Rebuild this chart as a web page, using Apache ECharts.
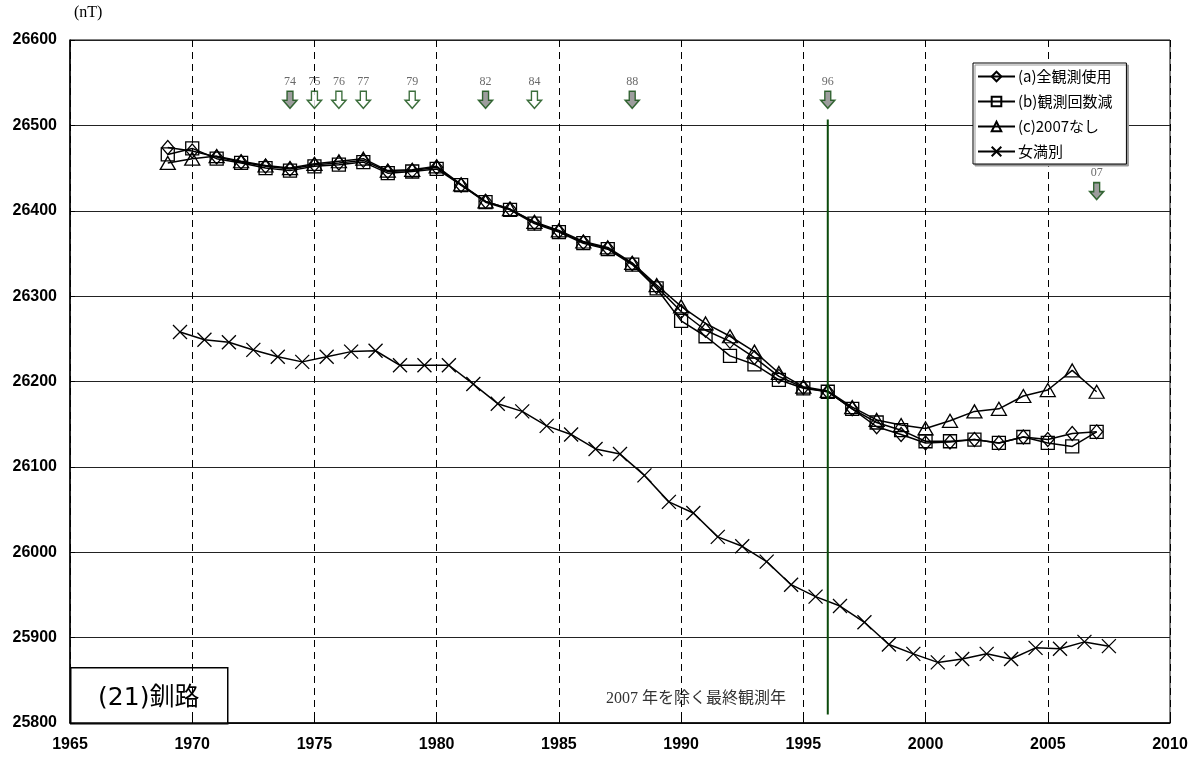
<html>
<head>
    <meta charset="utf-8">
    <title>(21)釧路</title>
    <script src="https://cdn.jsdelivr.net/npm/echarts@6/dist/echarts.min.js"></script>
    <style>
        html, body { margin: 0; padding: 0; background: #fff; }
    </style>
</head>
<body>
<div id="chartmain" style="width: 1204px; height: 760px;"></div>
<script type="text/javascript">
    // 観測年 (釧路)
    var years = [1969, 1970, 1971, 1972, 1973, 1974, 1975, 1976, 1977, 1978,
        1979, 1980, 1981, 1982, 1983, 1984, 1985, 1986, 1987, 1988,
        1989, 1990, 1991, 1992, 1993, 1994, 1995, 1996, 1997, 1998,
        1999, 2000, 2001, 2002, 2003, 2004, 2005, 2006, 2007];

    // (a)全観測使用
    var seriesA = [26474, 26470, 26463, 26457, 26452, 26449, 26454, 26456, 26459, 26446,
        26447, 26451, 26430, 26411, 26402, 26386, 26376, 26363, 26356, 26338,
        26311, 26282, 26260, 26247, 26228, 26206, 26193, 26188, 26168, 26147,
        26138, 26128, 26129, 26132, 26128, 26135, 26132, 26139, 26141];

    // (b)観測回数減
    var seriesB = [26466, 26473, 26461, 26456, 26450, 26447, 26452, 26454, 26457, 26444,
        26446, 26449, 26430, 26410, 26401, 26385, 26375, 26362, 26355, 26337,
        26309, 26271, 26253, 26230, 26220, 26202, 26192, 26188, 26168, 26152,
        26143, 26130, 26130, 26132, 26128, 26135, 26128, 26124, 26141];

    // (c)2007なし
    var seriesC = [26456, 26461, 26464, 26458, 26453, 26450, 26455, 26458, 26461, 26447,
        26448, 26452, 26431, 26411, 26402, 26387, 26377, 26364, 26357, 26339,
        26313, 26288, 26268, 26253, 26235, 26210, 26194, 26189, 26170, 26155,
        26149, 26145, 26154, 26165, 26168, 26183, 26190, 26213, 26188];

    // 女満別 (年央値)
    var memanbetsuYears = [1969.5, 1970.5, 1971.5, 1972.5, 1973.5, 1974.5, 1975.5, 1976.5, 1977.5, 1978.5,
        1979.5, 1980.5, 1981.5, 1982.5, 1983.5, 1984.5, 1985.5, 1986.5, 1987.5, 1988.5,
        1989.5, 1990.5, 1991.5, 1992.5, 1993.5, 1994.5, 1995.5, 1996.5, 1997.5, 1998.5,
        1999.5, 2000.5, 2001.5, 2002.5, 2003.5, 2004.5, 2005.5, 2006.5, 2007.5];
    var memanbetsu = [26258, 26249, 26246, 26237, 26229, 26223, 26229, 26235, 26236, 26219,
        26219, 26219, 26197, 26174, 26165, 26148, 26138, 26121, 26115, 26090,
        26059, 26046, 26018, 26007, 25989, 25962, 25948, 25937, 25918, 25892,
        25881, 25871, 25875, 25881, 25875, 25888, 25887, 25895, 25890];

    // 観測年の矢印
    var arrowYears = [1974, 1975, 1976, 1977, 1979, 1982, 1984, 1988, 1996, 2007];
    var arrowLabels = ['74', '75', '76', '77', '79', '82', '84', '88', '96', '07'];
    var arrowFilled = [true, false, false, false, false, true, false, true, true, true];

    var lastYear = 1996;
    var seriesNames = ['(a)全観測使用', '(b)観測回数減', '(c)2007なし', '女満別'];
    var xTicks = [1965, 2010, 5];
    var yTicks = [25800, 26600, 100];

    function pairs(xs, ys) {
        var out = [];
        for (var i = 0; i < xs.length; i++) {
            out.push([xs[i], ys[i]]);
        }
        return out;
    }

    var crossPath = 'path://M0,0L12,12M12,0L0,12';
    var arrowPath = 'path://M4,0L10,0L10,9L14,9L7,17L0,9L4,9Z';
    var green = '#0b4a0b';

    function lineSeries(name, data, symbol, size) {
        return {
            name: name,
            type: 'line',
            data: data,
            symbol: symbol,
            symbolSize: size,
            showAllSymbol: true,
            lineStyle: { color: '#000', width: 1.5 },
            itemStyle: { color: 'transparent', borderColor: '#000', borderWidth: 1.3 },
            emphasis: { disabled: true },
            z: 3
        };
    }

    var arrowData = [];
    for (var i = 0; i < arrowYears.length; i++) {
        arrowData.push({
            name: arrowLabels[i],
            value: [arrowYears[i], arrowYears[i] === 2007 ? 26423 : 26530],
            itemStyle: { color: arrowFilled[i] ? '#858585' : '#fff' }
        });
    }

    var myChart = echarts.init(document.getElementById('chartmain'));
    var option = {
        animation: false,
        backgroundColor: '#fff',
        grid: { left: 70, right: 34, top: 40, bottom: 37, show: true, borderColor: '#000', borderWidth: 1 },
        legend: {
            data: seriesNames,
            orient: 'vertical',
            left: 973,
            top: 63,
            padding: [5, 14, 4, 4],
            itemGap: 8,
            itemWidth: 37,
            itemHeight: 12,
            backgroundColor: '#fff',
            borderColor: '#000',
            borderWidth: 1,
            shadowColor: '#999',
            shadowOffsetX: 2,
            shadowOffsetY: 2,
            shadowBlur: 0,
            textStyle: { fontFamily: 'Noto Sans CJK JP', fontSize: 15, color: '#000', lineHeight: 17, padding: [0, 0, 0, -2] }
        },
        xAxis: {
            type: 'value',
            min: xTicks[0],
            max: xTicks[1],
            interval: xTicks[2],
            axisLine: { lineStyle: { color: '#000', width: 1.5 } },
            axisTick: { inside: true, length: 5, lineStyle: { color: '#000' } },
            axisLabel: {
                color: '#000', fontFamily: 'Liberation Sans', fontSize: 16, fontWeight: 'bold', margin: 14,
                formatter: function (v) { return String(v); }
            },
            splitLine: { show: true, lineStyle: { color: '#000', type: [7, 5], width: 1 } }
        },
        yAxis: {
            type: 'value',
            min: yTicks[0],
            max: yTicks[1],
            interval: yTicks[2],
            axisLine: { show: true, lineStyle: { color: '#000', width: 1.5 } },
            axisTick: { show: true, inside: true, length: 5, lineStyle: { color: '#000' } },
            axisLabel: {
                color: '#000', fontFamily: 'Liberation Sans', fontSize: 16, fontWeight: 'bold', margin: 13,
                formatter: function (v) { return String(v); }
            },
            splitLine: { show: true, lineStyle: { color: '#222', width: 1 } }
        },
        series: [
            lineSeries(seriesNames[2], pairs(years, seriesC), 'triangle', [15, 13]),
            lineSeries(seriesNames[1], pairs(years, seriesB), 'rect', 13),
            lineSeries(seriesNames[0], pairs(years, seriesA), 'diamond', [12, 14]),
            lineSeries(seriesNames[3], pairs(memanbetsuYears, memanbetsu), crossPath, 14),
            {
                name: '最終観測年',
                type: 'line',
                data: [[lastYear, 26507], [lastYear, 25810]],
                symbol: 'none',
                lineStyle: { color: green, width: 2 },
                emphasis: { disabled: true },
                z: 4
            },
            {
                name: '矢印',
                type: 'scatter',
                data: arrowData,
                symbol: arrowPath,
                symbolSize: [14, 17],
                itemStyle: { borderColor: green, borderWidth: 1.5 },
                label: {
                    show: true,
                    position: 'top',
                    distance: 3,
                    formatter: '{b}',
                    fontFamily: 'Liberation Serif',
                    fontSize: 12,
                    color: '#444'
                },
                emphasis: { disabled: true },
                z: 5
            }
        ],
        graphic: [
            {
                type: 'text',
                left: 74,
                top: 5,
                style: { text: '(nT)', fontFamily: 'Liberation Serif', fontSize: 16, fill: '#000' }
            },
            {
                type: 'text',
                left: 606,
                top: 691,
                style: { text: '2007 年を除く最終観測年', fontFamily: 'Liberation Serif, Noto Sans CJK JP', fontSize: 16, fill: '#333' }
            },
            {
                type: 'group',
                left: 70,
                top: 667,
                children: [
                    {
                        type: 'rect',
                        shape: { x: 0, y: 0, width: 157, height: 56 },
                        style: { fill: '#fff', stroke: '#000', lineWidth: 1.5 }
                    },
                    {
                        type: 'text',
                        x: 78,
                        y: 31,
                        style: { text: '(21)釧路', fontFamily: 'DejaVu Sans, Noto Sans CJK JP', fontSize: 25, fill: '#000', align: 'center', verticalAlign: 'middle' }
                    }
                ],
                z: 10
            }
        ]
    };
    myChart.setOption(option);
</script>
</body>
</html>
